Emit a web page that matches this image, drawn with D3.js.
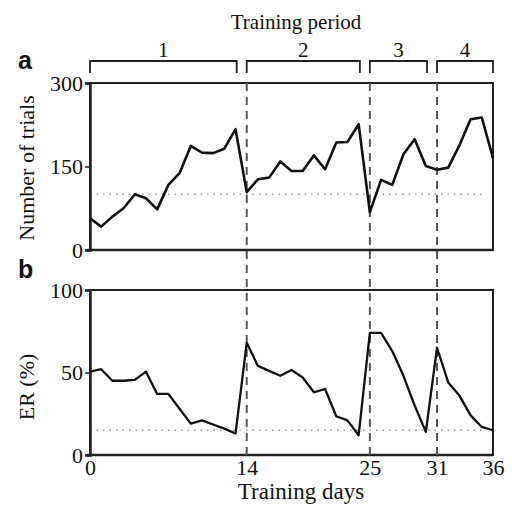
<!DOCTYPE html>
<html><head><meta charset="utf-8">
<script src="https://cdn.jsdelivr.net/npm/d3@7"></script>
<style>
html,body{margin:0;padding:0;background:#fff;}
svg text{font-family:"Liberation Serif","Times New Roman",serif;fill:#111;}
</style></head>
<body><svg id="c" width="512" height="505"></svg>
<script>
const days = [0,1,2,3,4,5,6,7,8,9,10,11,12,13,14,15,16,17,18,19,20,21,22,23,24,25,26,27,28,29,30,31,32,33,34,35,36];
const trials = [57,42,60,75,100,93,73,117,138,187,175,174,182,217,104,127,130,159,142,142,170,145,193,194,226,68,126,117,172,199,151,144,148,188,235,238,165];
const er = [50.5,52,45,45,45.5,50.5,37,37,28,19,21,18.5,16,13,68,54,51,48,51.5,47,38,40,23.5,21,12,74,74,63,48,30,14,65,44,36,24,17,15];
const periodStarts = [0,14,25,31];
const periodLabels = ["1","2","3","4"];
const xTickValues = [0,14,25,31,36];
const trialTicks = [0,150,300];
const erTicks = [0,50,100];
const trialThreshold = 100;
const erThreshold = 15;

const svg = d3.select("#c");
const x = d3.scaleLinear().domain([0,36]).range([90,493]);
const yT = d3.scaleLinear().domain([0,300]).range([250,83]);
const yB = d3.scaleLinear().domain([0,100]).range([455,290]);

function panel(y, ticks, vals, thr) {
  svg.append("rect").attr("x", x(0)).attr("y", y.range()[1])
    .attr("width", x(36)-x(0)).attr("height", y.range()[0]-y.range()[1])
    .attr("fill","none").attr("stroke","#222").attr("stroke-width",2);
  svg.append("line").attr("x1", x(0)).attr("x2", x(35.3))
    .attr("y1", y(thr)).attr("y2", y(thr))
    .attr("stroke","#999").attr("stroke-width",1.5).attr("stroke-dasharray","1.5,5");
  const ax = svg.append("g").attr("transform",`translate(${x(0)},0)`)
    .call(d3.axisLeft(y).tickValues(ticks).tickSize(5).tickPadding(2).tickFormat(d3.format("d")));
  ax.select(".domain").attr("stroke","#222").attr("stroke-width",2.5);
  ax.selectAll(".tick line").attr("stroke","#222").attr("stroke-width",1.5);
  ax.selectAll(".tick text").style("font-size","22px").attr("fill","#111");
  svg.append("line").attr("x1", x(0)-3).attr("x2", x(36))
    .attr("y1", y(0)).attr("y2", y(0)).attr("stroke","#222").attr("stroke-width",2.5);
}

panel(yT, trialTicks, trials, trialThreshold);
panel(yB, erTicks, er, erThreshold);

svg.selectAll("line.vd").data(periodStarts.slice(1)).enter().append("line")
  .attr("class","vd").attr("x1", d=>x(d)).attr("x2", d=>x(d))
  .attr("y1", yT(300)).attr("y2", yB(0)+3)
  .attr("stroke","#555").attr("stroke-width",2).attr("stroke-dasharray","8,6");

const lineT = d3.line().x((d,i)=>x(days[i])).y(d=>yT(d));
const lineB = d3.line().x((d,i)=>x(days[i])).y(d=>yB(d));
svg.append("path").attr("d", lineT(trials)).attr("fill","none").attr("stroke","#111")
  .attr("stroke-width",2.6).attr("stroke-linejoin","round");
svg.append("path").attr("d", lineB(er)).attr("fill","none").attr("stroke","#111")
  .attr("stroke-width",2.3).attr("stroke-linejoin","round");

const xa = svg.append("g").attr("transform",`translate(0,${yB(0)})`)
  .call(d3.axisBottom(x).tickValues(xTickValues).tickSize(0).tickPadding(4).tickFormat(d3.format("d")));
xa.select(".domain").remove();
xa.selectAll(".tick text").style("font-size","22px").attr("fill","#111");

svg.append("text").attr("x",301).attr("y",499).attr("text-anchor","middle")
  .style("font-size","23px").text("Training days");
svg.append("text").attr("transform","translate(34,168) rotate(-90)").attr("text-anchor","middle")
  .style("font-size","22px").text("Number of trials");
svg.append("text").attr("transform","translate(34,387) rotate(-90)").attr("text-anchor","middle")
  .style("font-size","22px").text("ER (%)");

const ends = periodStarts.slice(1).map(d=>x(d)-10).concat([x(36)]);
const bTop = 61, bBot = 73;
periodStarts.forEach((s,i)=>{
  const x0 = x(s), x1 = ends[i];
  svg.append("path").attr("d",`M${x0},${bBot}V${bTop}H${x1}V${bBot}`)
    .attr("fill","none").attr("stroke","#222").attr("stroke-width",1.8);
  svg.append("text").attr("x",(x0+x1)/2).attr("y",bTop-4).attr("text-anchor","middle")
    .style("font-size","21px").text(periodLabels[i]);
});
svg.append("text").attr("x",296).attr("y",29).attr("text-anchor","middle")
  .style("font-size","21px").text("Training period");

svg.append("text").attr("x",18).attr("y",69).style("font-family","'Liberation Sans',Arial,sans-serif")
  .style("font-weight","bold").style("font-size","25px").text("a");
svg.append("text").attr("x",18).attr("y",278).style("font-family","'Liberation Sans',Arial,sans-serif")
  .style("font-weight","bold").style("font-size","25px").text("b");
</script></body></html>
